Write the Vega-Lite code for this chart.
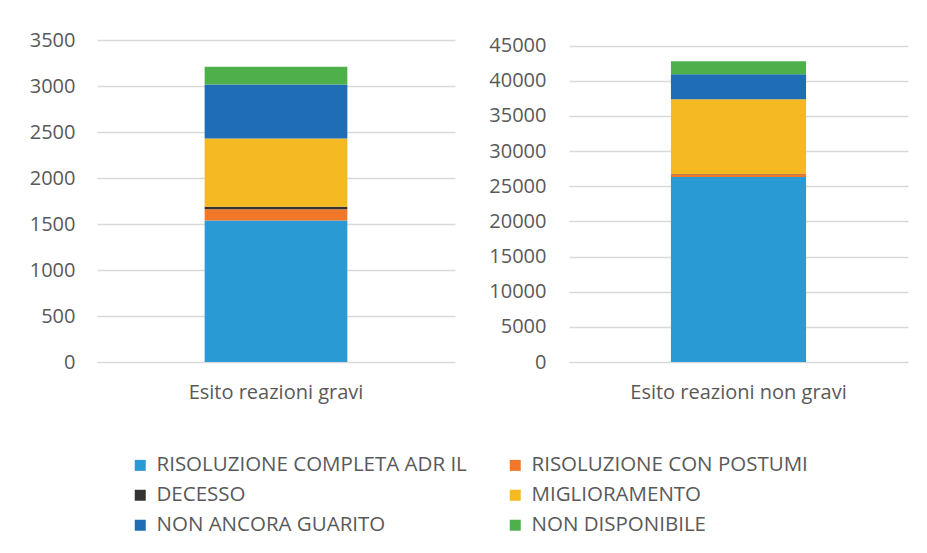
{
  "$schema": "https://vega.github.io/schema/vega-lite/v6.json",
  "background": "white",
  "padding": {"left": 29, "top": 30, "right": 10, "bottom": 10},
  "spacing": 33,
  "config": {
    "font": "Open Sans",
    "view": {"stroke": null},
    "axis": {"labelFont": "Open Sans", "labelFontSize": 20, "labelColor": "#595959", "ticks": false, "domain": false, "title": null, "labelLimit": 400},
    "legend": {"labelFont": "Open Sans", "labelFontSize": 20.5, "labelColor": "#595959", "layout": {"bottom": {"anchor": "middle"}}}
  },
  "data": {
    "values": [
      {"panel": "gravi", "cat": "Esito reazioni gravi", "esito": "RISOLUZIONE COMPLETA ADR IL", "ord": 1, "value": 1538},
      {"panel": "gravi", "cat": "Esito reazioni gravi", "esito": "RISOLUZIONE CON POSTUMI", "ord": 2, "value": 123},
      {"panel": "gravi", "cat": "Esito reazioni gravi", "esito": "DECESSO", "ord": 3, "value": 26},
      {"panel": "gravi", "cat": "Esito reazioni gravi", "esito": "MIGLIORAMENTO", "ord": 4, "value": 742},
      {"panel": "gravi", "cat": "Esito reazioni gravi", "esito": "NON ANCORA GUARITO", "ord": 5, "value": 587},
      {"panel": "gravi", "cat": "Esito reazioni gravi", "esito": "NON DISPONIBILE", "ord": 6, "value": 193},
      {"panel": "nongravi", "cat": "Esito reazioni non gravi", "esito": "RISOLUZIONE COMPLETA ADR IL", "ord": 1, "value": 26300},
      {"panel": "nongravi", "cat": "Esito reazioni non gravi", "esito": "RISOLUZIONE CON POSTUMI", "ord": 2, "value": 400},
      {"panel": "nongravi", "cat": "Esito reazioni non gravi", "esito": "DECESSO", "ord": 3, "value": 30},
      {"panel": "nongravi", "cat": "Esito reazioni non gravi", "esito": "MIGLIORAMENTO", "ord": 4, "value": 10650},
      {"panel": "nongravi", "cat": "Esito reazioni non gravi", "esito": "NON ANCORA GUARITO", "ord": 5, "value": 3560},
      {"panel": "nongravi", "cat": "Esito reazioni non gravi", "esito": "NON DISPONIBILE", "ord": 6, "value": 1850}
    ]
  },
  "hconcat": [
    {
      "width": 358,
      "height": 322,
      "transform": [{"filter": "datum.panel === 'gravi'"}],
      "layer": [
        {
          "mark": {"type": "bar"},
          "encoding": {
            "x": {"field": "cat", "type": "nominal", "scale": {"paddingInner": 0.43, "paddingOuter": 0.43}, "axis": {"labelAngle": 0, "labelPadding": 20, "grid": false}},
            "y": {"field": "value", "type": "quantitative", "stack": "zero", "scale": {"domain": [0, 3500], "nice": false}, "axis": {"values": [0, 500, 1000, 1500, 2000, 2500, 3000, 3500], "format": "d", "labelPadding": 22, "grid": true, "gridColor": "#D9D9D9", "gridWidth": 1.5}},
            "order": {"field": "ord", "type": "quantitative"},
            "color": {
              "field": "esito", "type": "nominal",
              "scale": {
                "domain": ["RISOLUZIONE COMPLETA ADR IL", "RISOLUZIONE CON POSTUMI", "DECESSO", "MIGLIORAMENTO", "NON ANCORA GUARITO", "NON DISPONIBILE"],
                "range": ["#2A9AD5", "#F07828", "#333333", "#F5B921", "#1F6DB5", "#4DB04A"]
              },
              "legend": {"title": null, "orient": "bottom", "direction": "horizontal", "columns": 2, "symbolType": "square", "symbolSize": 121, "symbolStrokeWidth": 0, "labelOffset": 6, "columnPadding": 38, "rowPadding": 9, "offset": 53, "labelLimit": 400}
            }
          }
        }
      ]
    },
    {
      "width": 339,
      "height": 322,
      "transform": [{"filter": "datum.panel === 'nongravi'"}],
      "layer": [
        {
          "mark": {"type": "bar"},
          "encoding": {
            "x": {"field": "cat", "type": "nominal", "scale": {"paddingInner": 0.43, "paddingOuter": 0.43}, "axis": {"labelAngle": 0, "labelPadding": 20, "grid": false}},
            "y": {"field": "value", "type": "quantitative", "stack": "zero", "scale": {"domain": [0, 45800], "nice": false}, "axis": {"values": [0, 5000, 10000, 15000, 20000, 25000, 30000, 35000, 40000, 45000], "format": "d", "labelPadding": 23, "grid": true, "gridColor": "#D9D9D9", "gridWidth": 1.5}},
            "order": {"field": "ord", "type": "quantitative"},
            "color": {"field": "esito", "type": "nominal"}
          }
        }
      ]
    }
  ]
}
